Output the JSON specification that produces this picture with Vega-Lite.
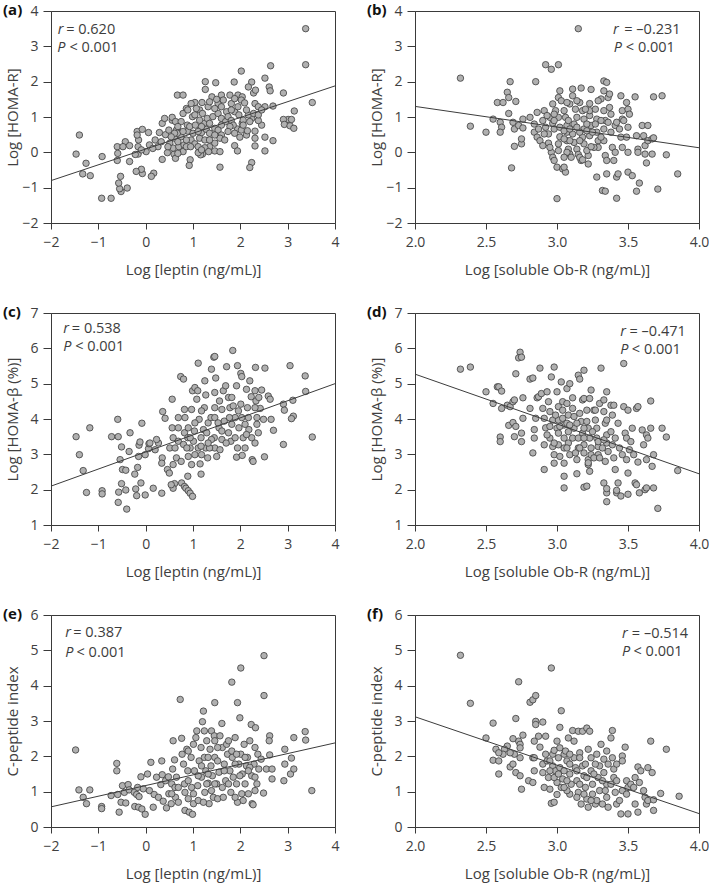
{
"$schema": "https://vega.github.io/schema/vega-lite/v6.json",
"background": "white",
"padding": {"left": 2, "top": 2, "right": 5, "bottom": 5},
"columns": 2,
"spacing": {"row": 90, "column": 80},
"bounds": "flush",
"datasets": {
"a": [{"x":3.38,"y":3.5},{"x":3.38,"y":2.48},{"x":2.64,"y":2.45},{"x":3.52,"y":1.41},{"x":2.02,"y":2.3},{"x":2.52,"y":2.1},{"x":1.26,"y":2.0},{"x":1.48,"y":1.97},{"x":1.87,"y":1.99},{"x":2.24,"y":1.99},{"x":2.17,"y":1.85},{"x":2.28,"y":1.68},{"x":2.32,"y":1.76},{"x":2.61,"y":1.85},{"x":2.63,"y":1.74},{"x":2.91,"y":1.68},{"x":0.67,"y":1.62},{"x":0.79,"y":1.62},{"x":1.26,"y":1.78},{"x":1.4,"y":1.57},{"x":1.6,"y":1.62},{"x":1.78,"y":1.62},{"x":1.95,"y":1.62},{"x":2.04,"y":1.57},{"x":1.04,"y":1.41},{"x":1.19,"y":1.41},{"x":0.86,"y":1.24},{"x":1.14,"y":1.2},{"x":1.32,"y":1.29},{"x":1.53,"y":1.38},{"x":1.71,"y":1.15},{"x":1.88,"y":1.15},{"x":2.31,"y":1.38},{"x":2.38,"y":1.29},{"x":2.52,"y":1.29},{"x":2.69,"y":1.31},{"x":3.14,"y":1.17},{"x":3.01,"y":0.93},{"x":3.08,"y":0.93},{"x":2.91,"y":0.93},{"x":2.93,"y":0.79},{"x":3.05,"y":0.75},{"x":3.13,"y":0.68},{"x":2.45,"y":0.77},{"x":2.38,"y":0.9},{"x":2.24,"y":0.96},{"x":2.04,"y":0.82},{"x":1.94,"y":0.66},{"x":1.99,"y":0.43},{"x":2.13,"y":0.49},{"x":2.31,"y":0.6},{"x":2.31,"y":0.4},{"x":2.52,"y":0.43},{"x":2.69,"y":0.33},{"x":1.88,"y":0.19},{"x":1.94,"y":0.04},{"x":2.31,"y":0.18},{"x":2.52,"y":0.04},{"x":2.24,"y":-0.29},{"x":2.2,"y":-0.43},{"x":1.46,"y":0.04},{"x":1.57,"y":0.02},{"x":1.57,"y":-0.42},{"x":1.2,"y":-0.05},{"x":1.16,"y":-0.07},{"x":0.94,"y":-0.21},{"x":0.92,"y":-0.37},{"x":0.6,"y":-0.05},{"x":0.63,"y":-0.17},{"x":0.46,"y":-0.01},{"x":0.35,"y":-0.2},{"x":0.17,"y":-0.59},{"x":0.12,"y":-0.68},{"x":-0.07,"y":-0.6},{"x":-0.09,"y":-0.48},{"x":-0.2,"y":-0.54},{"x":-0.16,"y":-0.05},{"x":0.01,"y":0.02},{"x":-0.22,"y":-0.06},{"x":-0.34,"y":-0.26},{"x":-0.39,"y":-1.01},{"x":-0.52,"y":-1.11},{"x":-0.55,"y":-1.03},{"x":-0.57,"y":-0.87},{"x":-0.53,"y":-0.68},{"x":-0.93,"y":-1.3},{"x":-0.73,"y":-1.3},{"x":-0.92,"y":-0.12},{"x":-1.17,"y":-0.66},{"x":-1.33,"y":-0.61},{"x":-1.26,"y":-0.31},{"x":-1.47,"y":-0.05},{"x":-1.4,"y":0.49},{"x":-0.6,"y":0.16},{"x":-0.59,"y":-0.03},{"x":-0.6,"y":-0.23},{"x":-0.43,"y":0.3},{"x":-0.48,"y":0.16},{"x":-0.34,"y":0.19},{"x":-0.16,"y":0.16},{"x":-0.15,"y":0.35},{"x":-0.18,"y":0.59},{"x":-0.18,"y":0.49},{"x":-0.07,"y":0.65},{"x":0.06,"y":0.56},{"x":0.08,"y":0.21},{"x":0.2,"y":0.35},{"x":0.29,"y":0.56},{"x":0.42,"y":0.5},{"x":0.35,"y":0.82},{"x":0.4,"y":0.96},{"x":0.56,"y":0.91},{"x":0.56,"y":0.99},{"x":0.63,"y":0.87},{"x":0.49,"y":0.63},{"x":0.65,"y":0.63},{"x":0.75,"y":0.87},{"x":0.79,"y":1.1},{"x":0.89,"y":1.2},{"x":0.99,"y":1.01},{"x":1.04,"y":1.06},{"x":0.88,"y":0.77},{"x":0.89,"y":0.6},{"x":0.75,"y":0.44},{"x":0.61,"y":0.4},{"x":0.51,"y":0.26},{"x":0.58,"y":0.12},{"x":0.7,"y":0.16},{"x":0.81,"y":0.21},{"x":0.96,"y":0.35},{"x":1.04,"y":0.24},{"x":1.14,"y":0.4},{"x":1.18,"y":0.56},{"x":1.28,"y":0.65},{"x":1.35,"y":0.54},{"x":1.46,"y":0.68},{"x":1.23,"y":0.82},{"x":1.3,"y":0.96},{"x":1.42,"y":1.01},{"x":1.53,"y":1.1},{"x":1.6,"y":0.96},{"x":1.69,"y":0.87},{"x":1.74,"y":1.01},{"x":1.81,"y":0.9},{"x":1.85,"y":0.77},{"x":1.78,"y":0.73},{"x":1.6,"y":0.77},{"x":1.53,"y":0.63},{"x":1.6,"y":0.49},{"x":1.57,"y":0.4},{"x":1.46,"y":0.26},{"x":1.35,"y":0.16},{"x":1.25,"y":0.13},{"x":1.11,"y":0.16},{"x":1.0,"y":0.54},{"x":0.93,"y":0.73},{"x":0.68,"y":0.73},{"x":0.67,"y":0.54},{"x":1.88,"y":0.54},{"x":2.02,"y":0.63},{"x":2.06,"y":0.91},{"x":2.17,"y":1.06},{"x":2.13,"y":1.2},{"x":1.95,"y":1.29},{"x":1.81,"y":1.38},{"x":1.88,"y":1.52},{"x":2.02,"y":1.48},{"x":2.09,"y":1.4},{"x":2.28,"y":1.1},{"x":2.2,"y":0.87},{"x":0.79,"y":0.02},{"x":0.86,"y":0.16},{"x":0.68,"y":-0.03},{"x":0.61,"y":0.54},{"x":0.26,"y":0.16},{"x":0.33,"y":0.3},{"x":0.15,"y":0.11},{"x":-0.09,"y":0.07},{"x":0.68,"y":0.3},{"x":1.05,"y":0.77},{"x":1.14,"y":0.91},{"x":1.2,"y":1.1},{"x":1.07,"y":1.24},{"x":0.96,"y":1.38},{"x":1.46,"y":1.24},{"x":1.6,"y":1.29},{"x":1.64,"y":1.48},{"x":1.5,"y":1.5},{"x":1.35,"y":1.43},{"x":1.81,"y":1.2},{"x":1.74,"y":0.59},{"x":1.67,"y":0.35},{"x":1.35,"y":0.82},{"x":1.18,"y":0.73},{"x":1.11,"y":0.59},{"x":0.79,"y":0.59},{"x":0.86,"y":0.35},{"x":1.25,"y":0.35},{"x":1.35,"y":0.35},{"x":1.46,"y":0.49},{"x":1.97,"y":1.06},{"x":2.06,"y":0.77},{"x":2.38,"y":1.06},{"x":2.45,"y":1.2},{"x":2.15,"y":0.61},{"x":0.47,"y":0.16},{"x":0.54,"y":0.44},{"x":0.95,"y":0.16},{"x":1.33,"y":0.02},{"x":1.11,"y":-0.01},{"x":1.18,"y":0.07}],
"b": [{"x":3.15,"y":3.5},{"x":2.32,"y":2.1},{"x":2.92,"y":2.48},{"x":2.96,"y":2.35},{"x":3.01,"y":2.48},{"x":2.67,"y":2.0},{"x":2.85,"y":2.0},{"x":2.65,"y":1.7},{"x":2.66,"y":1.55},{"x":2.58,"y":1.41},{"x":2.62,"y":1.41},{"x":2.71,"y":1.44},{"x":2.66,"y":1.1},{"x":2.39,"y":0.74},{"x":2.5,"y":0.57},{"x":2.55,"y":0.94},{"x":2.6,"y":0.85},{"x":2.61,"y":0.71},{"x":2.6,"y":0.57},{"x":2.69,"y":0.85},{"x":2.7,"y":0.66},{"x":2.73,"y":0.76},{"x":2.76,"y":0.94},{"x":2.76,"y":0.69},{"x":2.7,"y":0.17},{"x":2.75,"y":0.24},{"x":2.75,"y":0.38},{"x":2.68,"y":-0.44},{"x":2.81,"y":0.99},{"x":2.84,"y":0.8},{"x":2.84,"y":0.57},{"x":2.86,"y":0.43},{"x":2.86,"y":1.13},{"x":2.9,"y":0.9},{"x":2.91,"y":1.18},{"x":2.92,"y":0.71},{"x":2.94,"y":0.52},{"x":2.94,"y":0.26},{"x":2.95,"y":0.99},{"x":2.97,"y":1.37},{"x":2.99,"y":1.18},{"x":2.97,"y":0.82},{"x":2.98,"y":0.66},{"x":2.96,"y":0.0},{"x":2.97,"y":-0.14},{"x":2.98,"y":-0.23},{"x":3.0,"y":-0.42},{"x":3.0,"y":-1.31},{"x":3.04,"y":-0.47},{"x":3.06,"y":-0.56},{"x":3.05,"y":-0.42},{"x":3.01,"y":0.05},{"x":3.01,"y":0.24},{"x":3.02,"y":0.44},{"x":3.01,"y":1.55},{"x":3.02,"y":1.74},{"x":3.03,"y":1.46},{"x":3.05,"y":1.18},{"x":3.06,"y":0.99},{"x":3.07,"y":0.76},{"x":3.07,"y":0.57},{"x":3.07,"y":0.33},{"x":3.08,"y":0.09},{"x":3.09,"y":-0.05},{"x":3.09,"y":1.37},{"x":3.11,"y":1.79},{"x":3.11,"y":1.6},{"x":3.13,"y":1.22},{"x":3.14,"y":0.99},{"x":3.12,"y":0.8},{"x":3.11,"y":0.52},{"x":3.12,"y":0.28},{"x":3.14,"y":0.09},{"x":3.15,"y":-0.06},{"x":3.17,"y":1.82},{"x":3.16,"y":1.41},{"x":3.18,"y":1.18},{"x":3.19,"y":0.94},{"x":3.19,"y":0.66},{"x":3.18,"y":0.43},{"x":3.19,"y":0.24},{"x":3.17,"y":-0.23},{"x":3.22,"y":-0.33},{"x":3.22,"y":-0.09},{"x":3.21,"y":0.05},{"x":3.23,"y":0.47},{"x":3.24,"y":0.76},{"x":3.23,"y":1.04},{"x":3.23,"y":1.38},{"x":3.24,"y":1.78},{"x":3.23,"y":1.18},{"x":3.27,"y":1.22},{"x":3.28,"y":0.94},{"x":3.28,"y":0.57},{"x":3.29,"y":0.33},{"x":3.29,"y":0.14},{"x":3.28,"y":-0.7},{"x":3.31,"y":1.51},{"x":3.33,"y":1.74},{"x":3.33,"y":2.02},{"x":3.35,"y":1.98},{"x":3.32,"y":-1.08},{"x":3.34,"y":-1.1},{"x":3.35,"y":-0.61},{"x":3.33,"y":1.18},{"x":3.34,"y":0.9},{"x":3.33,"y":0.66},{"x":3.33,"y":0.33},{"x":3.34,"y":-0.09},{"x":3.35,"y":-0.23},{"x":3.36,"y":1.55},{"x":3.37,"y":1.65},{"x":3.37,"y":1.27},{"x":3.38,"y":1.08},{"x":3.38,"y":0.57},{"x":3.39,"y":0.14},{"x":3.4,"y":-0.23},{"x":3.41,"y":0.76},{"x":3.42,"y":0.85},{"x":3.41,"y":0.0},{"x":3.42,"y":-1.3},{"x":3.42,"y":-0.7},{"x":3.43,"y":-0.61},{"x":3.45,"y":1.6},{"x":3.46,"y":1.18},{"x":3.46,"y":0.94},{"x":3.45,"y":0.43},{"x":3.46,"y":0.14},{"x":3.49,"y":1.41},{"x":3.5,"y":1.22},{"x":3.51,"y":1.08},{"x":3.5,"y":0.71},{"x":3.49,"y":0.43},{"x":3.5,"y":0.0},{"x":3.5,"y":-0.56},{"x":3.53,"y":-0.66},{"x":3.55,"y":1.57},{"x":3.56,"y":0.47},{"x":3.57,"y":0.09},{"x":3.57,"y":0.0},{"x":3.56,"y":-1.1},{"x":3.58,"y":-0.87},{"x":3.6,"y":0.76},{"x":3.61,"y":0.47},{"x":3.62,"y":0.19},{"x":3.62,"y":-0.05},{"x":3.63,"y":-0.3},{"x":3.64,"y":0.76},{"x":3.64,"y":0.33},{"x":3.67,"y":-0.05},{"x":3.67,"y":0.38},{"x":3.68,"y":0.41},{"x":3.68,"y":1.57},{"x":3.74,"y":1.6},{"x":3.71,"y":-1.04},{"x":3.77,"y":-0.07},{"x":3.85,"y":-0.61},{"x":3.01,"y":0.99},{"x":2.98,"y":1.08},{"x":2.93,"y":1.04},{"x":2.91,"y":0.52},{"x":2.88,"y":0.33},{"x":2.87,"y":0.66},{"x":3.09,"y":0.33},{"x":3.16,"y":0.33},{"x":3.27,"y":0.8},{"x":3.31,"y":0.43},{"x":3.26,"y":0.14},{"x":3.24,"y":0.16},{"x":3.16,"y":0.57},{"x":3.07,"y":0.0},{"x":3.05,"y":-0.14},{"x":3.1,"y":-0.14},{"x":3.16,"y":-0.14},{"x":3.18,"y":-0.21},{"x":3.08,"y":0.9},{"x":3.02,"y":0.71},{"x":3.05,"y":0.61},{"x":3.09,"y":0.66},{"x":3.14,"y":0.71},{"x":3.21,"y":0.8},{"x":3.31,"y":0.9},{"x":3.36,"y":0.85},{"x":3.47,"y":0.9},{"x":3.44,"y":0.66},{"x":3.29,"y":1.46},{"x":3.2,"y":1.22},{"x":3.14,"y":1.46},{"x":3.07,"y":1.41},{"x":2.98,"y":0.9},{"x":2.9,"y":0.19},{"x":2.95,"y":0.14},{"x":3.05,"y":0.38},{"x":3.21,"y":0.61},{"x":3.25,"y":0.57}],
"c": [{"x":-1.47,"y":3.5},{"x":-1.4,"y":2.99},{"x":-1.32,"y":2.54},{"x":-1.25,"y":1.92},{"x":-1.18,"y":3.75},{"x":-0.92,"y":1.97},{"x":-0.92,"y":1.88},{"x":-0.72,"y":3.5},{"x":-0.59,"y":3.99},{"x":-0.58,"y":3.5},{"x":-0.54,"y":2.85},{"x":-0.58,"y":1.64},{"x":-0.57,"y":1.93},{"x":-0.51,"y":2.17},{"x":-0.49,"y":2.57},{"x":-0.51,"y":3.21},{"x":-0.4,"y":1.45},{"x":-0.42,"y":1.99},{"x":-0.42,"y":2.55},{"x":-0.33,"y":3.61},{"x":-0.35,"y":3.08},{"x":-0.23,"y":2.44},{"x":-0.21,"y":2.02},{"x":-0.19,"y":1.83},{"x":-0.17,"y":2.63},{"x":-0.15,"y":2.94},{"x":-0.14,"y":3.26},{"x":-0.12,"y":3.35},{"x":-0.08,"y":3.88},{"x":-0.1,"y":2.19},{"x":-0.01,"y":1.85},{"x":-0.01,"y":2.99},{"x":0.06,"y":3.16},{"x":0.07,"y":3.3},{"x":0.09,"y":3.32},{"x":0.16,"y":2.04},{"x":0.2,"y":3.13},{"x":0.27,"y":3.32},{"x":0.23,"y":3.42},{"x":0.34,"y":1.9},{"x":0.35,"y":2.9},{"x":0.34,"y":2.75},{"x":0.36,"y":4.21},{"x":0.41,"y":4.02},{"x":0.46,"y":2.57},{"x":0.5,"y":2.47},{"x":0.51,"y":3.18},{"x":0.56,"y":3.75},{"x":0.56,"y":4.56},{"x":0.58,"y":3.47},{"x":0.62,"y":3.18},{"x":0.58,"y":2.71},{"x":0.61,"y":2.17},{"x":0.58,"y":2.04},{"x":0.54,"y":2.14},{"x":0.65,"y":2.9},{"x":0.69,"y":3.37},{"x":0.69,"y":3.75},{"x":0.74,"y":5.2},{"x":0.8,"y":5.13},{"x":0.76,"y":2.19},{"x":0.82,"y":2.09},{"x":0.85,"y":2.04},{"x":0.9,"y":1.97},{"x":0.94,"y":1.9},{"x":0.99,"y":1.81},{"x":0.89,"y":2.38},{"x":0.75,"y":2.8},{"x":0.8,"y":3.28},{"x":0.82,"y":3.61},{"x":0.83,"y":4.04},{"x":0.82,"y":4.27},{"x":0.89,"y":3.47},{"x":0.9,"y":2.94},{"x":0.94,"y":3.18},{"x":0.97,"y":4.27},{"x":0.99,"y":4.8},{"x":1.03,"y":3.66},{"x":1.01,"y":3.37},{"x":1.04,"y":2.99},{"x":1.04,"y":4.89},{"x":1.11,"y":5.58},{"x":1.1,"y":4.8},{"x":1.08,"y":4.56},{"x":1.13,"y":3.99},{"x":1.11,"y":3.18},{"x":1.15,"y":2.73},{"x":1.17,"y":2.44},{"x":1.17,"y":3.47},{"x":1.22,"y":3.7},{"x":1.24,"y":4.32},{"x":1.25,"y":5.08},{"x":1.27,"y":4.68},{"x":1.27,"y":3.18},{"x":1.31,"y":2.9},{"x":1.32,"y":3.89},{"x":1.38,"y":4.04},{"x":1.39,"y":5.41},{"x":1.44,"y":5.75},{"x":1.46,"y":5.77},{"x":1.48,"y":5.16},{"x":1.46,"y":4.75},{"x":1.46,"y":4.32},{"x":1.45,"y":3.47},{"x":1.46,"y":3.18},{"x":1.5,"y":2.94},{"x":1.57,"y":3.13},{"x":1.55,"y":3.75},{"x":1.61,"y":4.27},{"x":1.64,"y":4.8},{"x":1.69,"y":4.94},{"x":1.71,"y":5.48},{"x":1.75,"y":4.61},{"x":1.78,"y":4.32},{"x":1.75,"y":3.61},{"x":1.8,"y":3.37},{"x":1.82,"y":3.85},{"x":1.84,"y":5.94},{"x":1.89,"y":4.04},{"x":1.92,"y":4.94},{"x":1.94,"y":5.51},{"x":1.97,"y":3.75},{"x":1.94,"y":3.18},{"x":1.92,"y":2.92},{"x":2.01,"y":5.29},{"x":2.03,"y":5.2},{"x":2.01,"y":4.42},{"x":2.04,"y":2.97},{"x":2.06,"y":3.47},{"x":2.1,"y":3.18},{"x":2.13,"y":4.84},{"x":2.15,"y":4.32},{"x":2.18,"y":3.7},{"x":2.2,"y":5.08},{"x":2.23,"y":4.63},{"x":2.25,"y":2.85},{"x":2.27,"y":2.8},{"x":2.31,"y":3.32},{"x":2.32,"y":5.46},{"x":2.31,"y":4.8},{"x":2.33,"y":4.51},{"x":2.35,"y":4.04},{"x":2.35,"y":3.85},{"x":2.38,"y":3.61},{"x":2.42,"y":4.3},{"x":2.45,"y":4.82},{"x":2.49,"y":3.99},{"x":2.52,"y":5.44},{"x":2.51,"y":2.93},{"x":2.59,"y":4.65},{"x":2.63,"y":4.56},{"x":2.65,"y":3.99},{"x":2.7,"y":3.68},{"x":2.91,"y":4.42},{"x":2.93,"y":4.25},{"x":2.91,"y":3.28},{"x":3.05,"y":5.51},{"x":3.11,"y":4.53},{"x":3.12,"y":4.08},{"x":3.08,"y":4.01},{"x":3.37,"y":5.22},{"x":3.38,"y":4.78},{"x":3.52,"y":3.49},{"x":1.18,"y":4.23},{"x":1.29,"y":3.61},{"x":1.39,"y":3.42},{"x":1.61,"y":3.66},{"x":1.66,"y":3.94},{"x":1.85,"y":4.37},{"x":1.89,"y":3.47},{"x":2.17,"y":4.04},{"x":2.24,"y":3.47},{"x":1.61,"y":3.42},{"x":1.35,"y":3.18},{"x":1.18,"y":2.99},{"x":0.97,"y":2.71},{"x":0.87,"y":3.18},{"x":0.69,"y":4.04},{"x":0.9,"y":3.75},{"x":1.04,"y":3.89},{"x":1.46,"y":4.04},{"x":1.56,"y":4.51},{"x":2.03,"y":4.04},{"x":2.1,"y":3.85},{"x":1.82,"y":4.61},{"x":1.17,"y":3.23},{"x":0.94,"y":3.47},{"x":1.53,"y":3.89},{"x":1.96,"y":4.23},{"x":2.31,"y":4.32},{"x":2.39,"y":4.61},{"x":2.13,"y":3.56},{"x":1.77,"y":4.04},{"x":1.7,"y":3.32},{"x":1.32,"y":3.32}],
"d": [{"x":2.32,"y":5.41},{"x":2.39,"y":5.47},{"x":2.5,"y":4.77},{"x":2.58,"y":4.91},{"x":2.59,"y":4.91},{"x":2.61,"y":4.79},{"x":2.55,"y":4.44},{"x":2.6,"y":3.49},{"x":2.6,"y":3.36},{"x":2.61,"y":4.3},{"x":2.65,"y":4.39},{"x":2.67,"y":4.35},{"x":2.69,"y":4.49},{"x":2.7,"y":4.54},{"x":2.66,"y":3.82},{"x":2.69,"y":3.9},{"x":2.71,"y":3.79},{"x":2.7,"y":3.5},{"x":2.71,"y":5.28},{"x":2.74,"y":5.89},{"x":2.73,"y":5.73},{"x":2.75,"y":5.75},{"x":2.76,"y":4.02},{"x":2.75,"y":3.6},{"x":2.75,"y":3.36},{"x":2.76,"y":4.6},{"x":2.81,"y":5.13},{"x":2.83,"y":5.16},{"x":2.81,"y":4.3},{"x":2.83,"y":3.04},{"x":2.84,"y":3.7},{"x":2.84,"y":3.46},{"x":2.85,"y":4.02},{"x":2.86,"y":4.6},{"x":2.87,"y":4.63},{"x":2.88,"y":5.44},{"x":2.89,"y":4.72},{"x":2.9,"y":4.3},{"x":2.91,"y":2.57},{"x":2.91,"y":3.27},{"x":2.92,"y":3.75},{"x":2.93,"y":4.77},{"x":2.94,"y":4.49},{"x":2.95,"y":4.21},{"x":2.96,"y":5.19},{"x":2.98,"y":5.47},{"x":2.97,"y":3.97},{"x":2.95,"y":3.46},{"x":2.97,"y":3.22},{"x":2.98,"y":2.99},{"x":2.98,"y":2.75},{"x":3.0,"y":4.77},{"x":3.01,"y":4.35},{"x":3.01,"y":3.97},{"x":3.0,"y":3.74},{"x":3.01,"y":3.6},{"x":3.01,"y":3.27},{"x":3.02,"y":2.94},{"x":3.03,"y":5.05},{"x":3.04,"y":4.49},{"x":3.04,"y":4.25},{"x":3.04,"y":4.02},{"x":3.05,"y":3.83},{"x":3.05,"y":3.46},{"x":3.05,"y":3.18},{"x":3.05,"y":2.75},{"x":3.05,"y":2.38},{"x":3.05,"y":2.05},{"x":3.07,"y":4.86},{"x":3.08,"y":4.11},{"x":3.07,"y":3.88},{"x":3.08,"y":3.64},{"x":3.08,"y":3.32},{"x":3.09,"y":2.99},{"x":3.09,"y":5.0},{"x":3.11,"y":4.6},{"x":3.11,"y":4.3},{"x":3.12,"y":4.07},{"x":3.12,"y":3.74},{"x":3.11,"y":3.46},{"x":3.14,"y":2.45},{"x":3.14,"y":2.85},{"x":3.15,"y":3.18},{"x":3.15,"y":5.24},{"x":3.16,"y":5.13},{"x":3.16,"y":4.16},{"x":3.17,"y":3.93},{"x":3.18,"y":4.54},{"x":3.18,"y":3.6},{"x":3.19,"y":3.27},{"x":3.19,"y":3.04},{"x":3.19,"y":5.38},{"x":3.19,"y":4.58},{"x":3.19,"y":2.07},{"x":3.21,"y":2.1},{"x":3.22,"y":2.85},{"x":3.22,"y":2.71},{"x":3.22,"y":2.76},{"x":3.23,"y":2.52},{"x":3.21,"y":4.25},{"x":3.21,"y":3.93},{"x":3.22,"y":3.74},{"x":3.23,"y":3.46},{"x":3.24,"y":3.18},{"x":3.24,"y":4.82},{"x":3.23,"y":4.58},{"x":3.26,"y":4.25},{"x":3.27,"y":3.97},{"x":3.28,"y":3.74},{"x":3.28,"y":3.46},{"x":3.29,"y":3.22},{"x":3.29,"y":2.99},{"x":3.31,"y":5.44},{"x":3.3,"y":4.44},{"x":3.33,"y":2.19},{"x":3.35,"y":1.91},{"x":3.35,"y":1.66},{"x":3.35,"y":2.03},{"x":3.33,"y":4.54},{"x":3.33,"y":4.21},{"x":3.34,"y":3.88},{"x":3.35,"y":3.55},{"x":3.35,"y":3.32},{"x":3.36,"y":3.08},{"x":3.35,"y":4.77},{"x":3.38,"y":4.39},{"x":3.39,"y":4.11},{"x":3.39,"y":3.27},{"x":3.4,"y":2.9},{"x":3.4,"y":4.39},{"x":3.41,"y":2.57},{"x":3.42,"y":1.91},{"x":3.42,"y":1.98},{"x":3.43,"y":2.19},{"x":3.43,"y":3.88},{"x":3.44,"y":3.18},{"x":3.45,"y":1.82},{"x":3.46,"y":2.99},{"x":3.47,"y":4.35},{"x":3.47,"y":5.57},{"x":3.48,"y":3.6},{"x":3.49,"y":3.46},{"x":3.49,"y":2.85},{"x":3.5,"y":4.25},{"x":3.5,"y":2.47},{"x":3.5,"y":1.87},{"x":3.51,"y":3.13},{"x":3.52,"y":3.36},{"x":3.53,"y":3.74},{"x":3.54,"y":2.99},{"x":3.55,"y":2.19},{"x":3.56,"y":2.14},{"x":3.56,"y":4.3},{"x":3.57,"y":4.35},{"x":3.57,"y":2.78},{"x":3.58,"y":1.91},{"x":3.6,"y":3.69},{"x":3.61,"y":3.27},{"x":3.62,"y":2.0},{"x":3.63,"y":2.05},{"x":3.63,"y":2.85},{"x":3.63,"y":3.55},{"x":3.64,"y":3.46},{"x":3.66,"y":3.74},{"x":3.66,"y":4.51},{"x":3.67,"y":2.66},{"x":3.68,"y":2.99},{"x":3.68,"y":2.05},{"x":3.71,"y":1.47},{"x":3.74,"y":3.74},{"x":3.77,"y":3.49},{"x":3.85,"y":2.54},{"x":3.07,"y":4.44},{"x":2.99,"y":4.11},{"x":2.95,"y":3.79},{"x":2.91,"y":4.02},{"x":2.93,"y":3.55},{"x":3.02,"y":3.79},{"x":3.09,"y":3.83},{"x":3.14,"y":3.88},{"x":3.15,"y":3.46},{"x":3.19,"y":3.74},{"x":3.25,"y":3.64},{"x":3.29,"y":3.36},{"x":3.32,"y":3.18},{"x":3.33,"y":3.41},{"x":3.38,"y":3.64},{"x":3.41,"y":3.46},{"x":3.35,"y":3.97},{"x":3.27,"y":4.25},{"x":3.19,"y":3.46},{"x":3.13,"y":3.04},{"x":3.07,"y":3.18},{"x":2.98,"y":3.32},{"x":3.16,"y":3.18},{"x":3.24,"y":2.99},{"x":3.26,"y":2.9},{"x":3.3,"y":2.9},{"x":3.34,"y":2.8}],
"e": [{"x":-1.48,"y":2.18},{"x":-1.41,"y":1.05},{"x":-1.32,"y":0.84},{"x":-1.25,"y":0.66},{"x":-1.18,"y":1.05},{"x":-0.93,"y":0.58},{"x":-0.93,"y":0.52},{"x":-0.73,"y":0.89},{"x":-0.61,"y":1.8},{"x":-0.61,"y":1.59},{"x":-0.59,"y":0.92},{"x":-0.56,"y":0.42},{"x":-0.52,"y":0.7},{"x":-0.49,"y":1.17},{"x":-0.45,"y":0.98},{"x":-0.42,"y":0.68},{"x":-0.37,"y":1.2},{"x":-0.35,"y":1.05},{"x":-0.24,"y":0.98},{"x":-0.23,"y":0.58},{"x":-0.19,"y":0.92},{"x":-0.17,"y":1.12},{"x":-0.15,"y":0.56},{"x":-0.14,"y":0.86},{"x":-0.1,"y":1.42},{"x":-0.08,"y":0.51},{"x":-0.01,"y":0.36},{"x":-0.05,"y":1.08},{"x":0.04,"y":1.5},{"x":0.11,"y":1.83},{"x":0.08,"y":1.03},{"x":0.16,"y":0.56},{"x":0.18,"y":0.92},{"x":0.23,"y":1.41},{"x":0.27,"y":0.84},{"x":0.32,"y":1.2},{"x":0.34,"y":1.87},{"x":0.35,"y":1.48},{"x":0.37,"y":0.73},{"x":0.42,"y":1.31},{"x":0.44,"y":0.54},{"x":0.48,"y":1.42},{"x":0.49,"y":0.94},{"x":0.55,"y":1.22},{"x":0.54,"y":0.66},{"x":0.57,"y":1.64},{"x":0.58,"y":2.44},{"x":0.61,"y":1.9},{"x":0.62,"y":1.12},{"x":0.63,"y":0.84},{"x":0.65,"y":1.41},{"x":0.69,"y":0.7},{"x":0.73,"y":3.61},{"x":0.76,"y":2.51},{"x":0.77,"y":2.06},{"x":0.8,"y":1.78},{"x":0.82,"y":1.22},{"x":0.83,"y":0.98},{"x":0.83,"y":0.47},{"x":0.87,"y":2.2},{"x":0.89,"y":1.59},{"x":0.9,"y":0.8},{"x":0.92,"y":0.42},{"x":0.96,"y":1.97},{"x":0.97,"y":1.12},{"x":0.99,"y":0.36},{"x":1.01,"y":2.34},{"x":1.01,"y":0.66},{"x":1.03,"y":1.59},{"x":1.06,"y":2.53},{"x":1.08,"y":2.72},{"x":1.1,"y":1.17},{"x":1.11,"y":0.75},{"x":1.13,"y":1.87},{"x":1.17,"y":2.25},{"x":1.18,"y":1.41},{"x":1.2,"y":2.98},{"x":1.22,"y":3.28},{"x":1.24,"y":2.72},{"x":1.24,"y":1.97},{"x":1.25,"y":0.98},{"x":1.27,"y":1.59},{"x":1.29,"y":2.44},{"x":1.32,"y":1.24},{"x":1.34,"y":0.66},{"x":1.36,"y":2.2},{"x":1.38,"y":1.73},{"x":1.39,"y":2.72},{"x":1.41,"y":1.45},{"x":1.43,"y":0.84},{"x":1.45,"y":2.58},{"x":1.46,"y":3.52},{"x":1.46,"y":1.97},{"x":1.5,"y":1.22},{"x":1.52,"y":0.8},{"x":1.55,"y":1.55},{"x":1.57,"y":2.58},{"x":1.61,"y":2.93},{"x":1.62,"y":2.25},{"x":1.62,"y":1.12},{"x":1.66,"y":1.78},{"x":1.69,"y":1.31},{"x":1.71,"y":2.34},{"x":1.73,"y":2.06},{"x":1.75,"y":2.44},{"x":1.78,"y":1.59},{"x":1.8,"y":0.98},{"x":1.82,"y":4.1},{"x":1.83,"y":1.97},{"x":1.85,"y":1.41},{"x":1.89,"y":2.53},{"x":1.92,"y":1.22},{"x":1.94,"y":3.52},{"x":1.94,"y":0.7},{"x":1.97,"y":1.78},{"x":1.99,"y":3.09},{"x":2.01,"y":4.5},{"x":2.01,"y":2.06},{"x":2.03,"y":0.94},{"x":2.04,"y":1.5},{"x":2.08,"y":2.34},{"x":2.1,"y":1.22},{"x":2.13,"y":1.73},{"x":2.15,"y":1.97},{"x":2.17,"y":0.94},{"x":2.2,"y":2.44},{"x":2.23,"y":2.9},{"x":2.24,"y":1.45},{"x":2.25,"y":0.66},{"x":2.27,"y":0.63},{"x":2.29,"y":1.78},{"x":2.31,"y":2.25},{"x":2.32,"y":2.81},{"x":2.35,"y":1.22},{"x":2.37,"y":2.06},{"x":2.39,"y":1.64},{"x":2.44,"y":1.92},{"x":2.49,"y":0.96},{"x":2.5,"y":3.72},{"x":2.5,"y":4.85},{"x":2.55,"y":1.64},{"x":2.62,"y":2.58},{"x":2.61,"y":2.44},{"x":2.62,"y":2.04},{"x":2.67,"y":1.64},{"x":2.67,"y":1.36},{"x":2.94,"y":2.2},{"x":2.94,"y":1.78},{"x":2.92,"y":1.31},{"x":3.06,"y":1.5},{"x":3.08,"y":1.95},{"x":3.13,"y":2.53},{"x":3.13,"y":1.64},{"x":3.37,"y":2.7},{"x":3.38,"y":2.46},{"x":3.51,"y":1.03},{"x":1.18,"y":1.73},{"x":1.32,"y":1.97},{"x":1.52,"y":1.87},{"x":1.66,"y":1.59},{"x":1.89,"y":1.78},{"x":1.99,"y":1.45},{"x":2.2,"y":1.69},{"x":2.31,"y":1.41},{"x":1.46,"y":1.22},{"x":1.29,"y":1.22},{"x":1.11,"y":1.45},{"x":0.9,"y":1.31},{"x":0.69,"y":1.12},{"x":0.55,"y":0.94},{"x":1.01,"y":0.94},{"x":1.39,"y":1.03},{"x":1.75,"y":1.22},{"x":1.89,"y":0.84},{"x":2.06,"y":0.75},{"x":2.31,"y":1.03},{"x":1.82,"y":2.15},{"x":1.52,"y":2.25},{"x":1.46,"y":2.44},{"x":0.9,"y":2.15},{"x":1.32,"y":1.5},{"x":1.92,"y":2.06},{"x":2.1,"y":1.97},{"x":2.17,"y":1.59},{"x":1.64,"y":0.84},{"x":1.22,"y":0.7}],
"f": [{"x":2.32,"y":4.86},{"x":2.39,"y":3.5},{"x":2.96,"y":4.5},{"x":2.73,"y":4.11},{"x":2.81,"y":3.53},{"x":2.83,"y":3.6},{"x":2.85,"y":3.72},{"x":2.71,"y":3.07},{"x":2.55,"y":2.94},{"x":2.5,"y":2.52},{"x":2.85,"y":2.99},{"x":2.85,"y":2.9},{"x":2.9,"y":2.97},{"x":3.03,"y":3.29},{"x":3.02,"y":2.82},{"x":2.76,"y":2.6},{"x":2.73,"y":2.43},{"x":2.74,"y":2.34},{"x":2.74,"y":2.24},{"x":2.69,"y":2.5},{"x":2.7,"y":2.06},{"x":2.65,"y":2.29},{"x":2.63,"y":2.2},{"x":2.67,"y":2.1},{"x":2.62,"y":2.06},{"x":2.57,"y":2.2},{"x":2.59,"y":2.1},{"x":2.55,"y":1.89},{"x":2.59,"y":1.87},{"x":2.59,"y":1.5},{"x":2.67,"y":1.7},{"x":2.69,"y":1.78},{"x":2.71,"y":1.54},{"x":2.74,"y":1.45},{"x":2.75,"y":1.07},{"x":2.74,"y":1.96},{"x":2.8,"y":1.31},{"x":2.83,"y":1.26},{"x":2.83,"y":1.96},{"x":2.84,"y":1.96},{"x":2.84,"y":2.43},{"x":2.84,"y":1.59},{"x":2.87,"y":2.57},{"x":2.88,"y":2.26},{"x":2.9,"y":1.78},{"x":2.9,"y":1.54},{"x":2.91,"y":1.12},{"x":2.92,"y":2.57},{"x":2.93,"y":1.87},{"x":2.94,"y":1.4},{"x":2.95,"y":1.07},{"x":2.96,"y":0.67},{"x":2.98,"y":0.7},{"x":2.97,"y":2.06},{"x":2.97,"y":1.73},{"x":2.98,"y":2.17},{"x":2.99,"y":1.59},{"x":3.0,"y":1.26},{"x":3.0,"y":0.92},{"x":3.0,"y":2.43},{"x":3.01,"y":1.96},{"x":3.02,"y":1.68},{"x":3.04,"y":1.36},{"x":3.03,"y":1.12},{"x":3.05,"y":2.06},{"x":3.06,"y":2.15},{"x":3.07,"y":1.87},{"x":3.08,"y":2.52},{"x":3.09,"y":1.5},{"x":3.09,"y":0.93},{"x":3.1,"y":1.21},{"x":3.11,"y":2.73},{"x":3.12,"y":2.43},{"x":3.12,"y":1.96},{"x":3.13,"y":1.68},{"x":3.14,"y":1.31},{"x":3.15,"y":2.71},{"x":3.15,"y":0.98},{"x":3.16,"y":2.1},{"x":3.17,"y":0.65},{"x":3.18,"y":1.73},{"x":3.18,"y":2.71},{"x":3.19,"y":1.45},{"x":3.2,"y":1.12},{"x":3.21,"y":0.79},{"x":3.21,"y":2.8},{"x":3.22,"y":2.2},{"x":3.22,"y":0.56},{"x":3.23,"y":2.71},{"x":3.24,"y":1.59},{"x":3.24,"y":1.96},{"x":3.25,"y":1.21},{"x":3.25,"y":0.93},{"x":3.27,"y":0.65},{"x":3.28,"y":2.06},{"x":3.29,"y":1.4},{"x":3.3,"y":1.73},{"x":3.31,"y":2.34},{"x":3.3,"y":1.03},{"x":3.32,"y":0.65},{"x":3.33,"y":1.92},{"x":3.33,"y":1.54},{"x":3.35,"y":1.21},{"x":3.35,"y":0.84},{"x":3.36,"y":0.56},{"x":3.36,"y":1.78},{"x":3.38,"y":2.52},{"x":3.39,"y":2.73},{"x":3.39,"y":1.96},{"x":3.4,"y":1.4},{"x":3.41,"y":0.98},{"x":3.42,"y":0.65},{"x":3.42,"y":1.31},{"x":3.44,"y":0.75},{"x":3.45,"y":0.37},{"x":3.46,"y":1.03},{"x":3.46,"y":2.01},{"x":3.46,"y":1.87},{"x":3.48,"y":2.26},{"x":3.49,"y":1.31},{"x":3.49,"y":0.93},{"x":3.5,"y":0.37},{"x":3.5,"y":1.12},{"x":3.52,"y":1.21},{"x":3.54,"y":1.12},{"x":3.55,"y":1.4},{"x":3.55,"y":0.65},{"x":3.57,"y":1.7},{"x":3.57,"y":0.42},{"x":3.58,"y":1.26},{"x":3.59,"y":1.59},{"x":3.61,"y":1.03},{"x":3.62,"y":0.84},{"x":3.63,"y":0.65},{"x":3.64,"y":1.68},{"x":3.64,"y":0.75},{"x":3.66,"y":2.43},{"x":3.67,"y":1.54},{"x":3.68,"y":0.47},{"x":3.68,"y":0.77},{"x":3.73,"y":0.95},{"x":3.77,"y":2.2},{"x":3.86,"y":0.87},{"x":2.95,"y":1.59},{"x":2.98,"y":1.4},{"x":3.01,"y":1.5},{"x":3.05,"y":1.59},{"x":3.07,"y":1.31},{"x":3.09,"y":1.78},{"x":3.14,"y":1.59},{"x":3.16,"y":1.21},{"x":3.2,"y":1.78},{"x":3.21,"y":1.4},{"x":3.26,"y":1.5},{"x":3.27,"y":1.78},{"x":3.32,"y":1.31},{"x":3.34,"y":1.03},{"x":3.38,"y":1.21},{"x":3.4,"y":1.64},{"x":3.28,"y":0.75},{"x":3.24,"y":0.75},{"x":3.19,"y":0.93},{"x":3.14,"y":0.84},{"x":3.07,"y":1.03},{"x":3.05,"y":1.12},{"x":3.16,"y":1.96},{"x":3.09,"y":2.06},{"x":3.02,"y":2.24},{"x":2.95,"y":1.87},{"x":2.92,"y":2.06},{"x":3.35,"y":2.15},{"x":3.42,"y":1.78}]
},
"concat": [
{"width":284,"height":212,"title":{"text":"(a)"},
 "layer":[
 {"data":{"name":"a"},"mark":{"type":"circle","size":42,"fill":"#b0b0b0","stroke":"#3c3c3c","strokeWidth":0.8,"opacity":1},
  "encoding":{"x":{"field":"x","type":"quantitative","scale":{"domain":[-2,4],"nice":false,"zero":false},"axis":{"values":[-2,-1,0,1,2,3,4],"title":"Log [leptin (ng/mL)]"}},
   "y":{"field":"y","type":"quantitative","scale":{"domain":[-2,4],"nice":false,"zero":false},"axis":{"values":[-2,-1,0,1,2,3,4],"tickCount":7,"labelOverlap":false,"title":"Log [HOMA-R]"}}}},
 {"data":{"values":[{"x":-2,"y":-0.8},{"x":4,"y":1.88}]},"mark":{"type":"line","color":"#3c3c3c","strokeWidth":1},
  "encoding":{"x":{"field":"x","type":"quantitative","scale":{"domain":[-2,4],"nice":false,"zero":false}},"y":{"field":"y","type":"quantitative","scale":{"domain":[-2,4],"nice":false,"zero":false}}}},
 {"data":{"values":[{"x":-1.86,"y":3.45,"t":"r"},{"x":-1.87,"y":2.94,"t":"P"}]},"mark":{"type":"text","align":"left","baseline":"middle","fontStyle":"italic","fontSize":14.5,"color":"#3d3d3d"},
  "encoding":{"x":{"field":"x","type":"quantitative"},"y":{"field":"y","type":"quantitative"},"text":{"field":"t"}}},
 {"data":{"values":[{"x":-1.68,"y":3.45,"t":"= 0.620"},{"x":-1.61,"y":2.94,"t":"< 0.001"}]},"mark":{"type":"text","align":"left","baseline":"middle","fontSize":14.5,"color":"#3d3d3d"},
  "encoding":{"x":{"field":"x","type":"quantitative"},"y":{"field":"y","type":"quantitative"},"text":{"field":"t"}}}
 ]},
{"width":284,"height":212,"title":{"text":"(b)"},
 "layer":[
 {"data":{"name":"b"},"mark":{"type":"circle","size":42,"fill":"#b0b0b0","stroke":"#3c3c3c","strokeWidth":0.8,"opacity":1},
  "encoding":{"x":{"field":"x","type":"quantitative","scale":{"domain":[2,4],"nice":false,"zero":false},"axis":{"values":[2,2.5,3,3.5,4],"format":".1f","title":"Log [soluble Ob-R (ng/mL)]"}},
   "y":{"field":"y","type":"quantitative","scale":{"domain":[-2,4],"nice":false,"zero":false},"axis":{"values":[-2,-1,0,1,2,3,4],"tickCount":7,"labelOverlap":false,"title":"Log [HOMA-R]"}}}},
 {"data":{"values":[{"x":2,"y":1.3},{"x":4,"y":0.13}]},"mark":{"type":"line","color":"#3c3c3c","strokeWidth":1},
  "encoding":{"x":{"field":"x","type":"quantitative","scale":{"domain":[2,4],"nice":false,"zero":false}},"y":{"field":"y","type":"quantitative","scale":{"domain":[-2,4],"nice":false,"zero":false}}}},
 {"data":{"values":[{"x":3.394,"y":3.45,"t":"r"},{"x":3.399,"y":2.95,"t":"P"}]},"mark":{"type":"text","align":"left","baseline":"middle","fontStyle":"italic","fontSize":14.5,"color":"#3d3d3d"},
  "encoding":{"x":{"field":"x","type":"quantitative"},"y":{"field":"y","type":"quantitative"},"text":{"field":"t"}}},
 {"data":{"values":[{"x":3.474,"y":3.45,"t":"= –0.231"},{"x":3.485,"y":2.95,"t":"< 0.001"}]},"mark":{"type":"text","align":"left","baseline":"middle","fontSize":14.5,"color":"#3d3d3d"},
  "encoding":{"x":{"field":"x","type":"quantitative"},"y":{"field":"y","type":"quantitative"},"text":{"field":"t"}}}
 ]},
{"width":284,"height":212,"title":{"text":"(c)"},
 "layer":[
 {"data":{"name":"c"},"mark":{"type":"circle","size":42,"fill":"#b0b0b0","stroke":"#3c3c3c","strokeWidth":0.8,"opacity":1},
  "encoding":{"x":{"field":"x","type":"quantitative","scale":{"domain":[-2,4],"nice":false,"zero":false},"axis":{"values":[-2,-1,0,1,2,3,4],"title":"Log [leptin (ng/mL)]"}},
   "y":{"field":"y","type":"quantitative","scale":{"domain":[1,7],"nice":false,"zero":false},"axis":{"values":[1,2,3,4,5,6,7],"tickCount":7,"labelOverlap":false,"title":"Log [HOMA-β (%)]"}}}},
 {"data":{"values":[{"x":-2,"y":2.1},{"x":4,"y":5.0}]},"mark":{"type":"line","color":"#3c3c3c","strokeWidth":1},
  "encoding":{"x":{"field":"x","type":"quantitative","scale":{"domain":[-2,4],"nice":false,"zero":false}},"y":{"field":"y","type":"quantitative","scale":{"domain":[1,7],"nice":false,"zero":false}}}},
 {"data":{"values":[{"x":-1.74,"y":6.55,"t":"r"},{"x":-1.74,"y":6.03,"t":"P"}]},"mark":{"type":"text","align":"left","baseline":"middle","fontStyle":"italic","fontSize":14.5,"color":"#3d3d3d"},
  "encoding":{"x":{"field":"x","type":"quantitative"},"y":{"field":"y","type":"quantitative"},"text":{"field":"t"}}},
 {"data":{"values":[{"x":-1.56,"y":6.55,"t":"= 0.538"},{"x":-1.49,"y":6.03,"t":"< 0.001"}]},"mark":{"type":"text","align":"left","baseline":"middle","fontSize":14.5,"color":"#3d3d3d"},
  "encoding":{"x":{"field":"x","type":"quantitative"},"y":{"field":"y","type":"quantitative"},"text":{"field":"t"}}}
 ]},
{"width":284,"height":212,"title":{"text":"(d)"},
 "layer":[
 {"data":{"name":"d"},"mark":{"type":"circle","size":42,"fill":"#b0b0b0","stroke":"#3c3c3c","strokeWidth":0.8,"opacity":1},
  "encoding":{"x":{"field":"x","type":"quantitative","scale":{"domain":[2,4],"nice":false,"zero":false},"axis":{"values":[2,2.5,3,3.5,4],"format":".1f","title":"Log [soluble Ob-R (ng/mL)]"}},
   "y":{"field":"y","type":"quantitative","scale":{"domain":[1,7],"nice":false,"zero":false},"axis":{"values":[1,2,3,4,5,6,7],"tickCount":7,"labelOverlap":false,"title":"Log [HOMA-β (%)]"}}}},
 {"data":{"values":[{"x":2,"y":5.27},{"x":4,"y":2.45}]},"mark":{"type":"line","color":"#3c3c3c","strokeWidth":1},
  "encoding":{"x":{"field":"x","type":"quantitative","scale":{"domain":[2,4],"nice":false,"zero":false}},"y":{"field":"y","type":"quantitative","scale":{"domain":[1,7],"nice":false,"zero":false}}}},
 {"data":{"values":[{"x":3.446,"y":6.47,"t":"r"},{"x":3.446,"y":5.96,"t":"P"}]},"mark":{"type":"text","align":"left","baseline":"middle","fontStyle":"italic","fontSize":14.5,"color":"#3d3d3d"},
  "encoding":{"x":{"field":"x","type":"quantitative"},"y":{"field":"y","type":"quantitative"},"text":{"field":"t"}}},
 {"data":{"values":[{"x":3.511,"y":6.47,"t":"= –0.471"},{"x":3.527,"y":5.96,"t":"< 0.001"}]},"mark":{"type":"text","align":"left","baseline":"middle","fontSize":14.5,"color":"#3d3d3d"},
  "encoding":{"x":{"field":"x","type":"quantitative"},"y":{"field":"y","type":"quantitative"},"text":{"field":"t"}}}
 ]},
{"width":284,"height":212,"title":{"text":"(e)"},
 "layer":[
 {"data":{"name":"e"},"mark":{"type":"circle","size":42,"fill":"#b0b0b0","stroke":"#3c3c3c","strokeWidth":0.8,"opacity":1},
  "encoding":{"x":{"field":"x","type":"quantitative","scale":{"domain":[-2,4],"nice":false,"zero":false},"axis":{"values":[-2,-1,0,1,2,3,4],"title":"Log [leptin (ng/mL)]"}},
   "y":{"field":"y","type":"quantitative","scale":{"domain":[0,6],"nice":false,"zero":false},"axis":{"values":[0,1,2,3,4,5,6],"tickCount":7,"labelOverlap":false,"title":"C-peptide index"}}}},
 {"data":{"values":[{"x":-2,"y":0.57},{"x":4,"y":2.38}]},"mark":{"type":"line","color":"#3c3c3c","strokeWidth":1},
  "encoding":{"x":{"field":"x","type":"quantitative","scale":{"domain":[-2,4],"nice":false,"zero":false}},"y":{"field":"y","type":"quantitative","scale":{"domain":[0,6],"nice":false,"zero":false}}}},
 {"data":{"values":[{"x":-1.7,"y":5.48,"t":"r"},{"x":-1.7,"y":4.92,"t":"P"}]},"mark":{"type":"text","align":"left","baseline":"middle","fontStyle":"italic","fontSize":14.5,"color":"#3d3d3d"},
  "encoding":{"x":{"field":"x","type":"quantitative"},"y":{"field":"y","type":"quantitative"},"text":{"field":"t"}}},
 {"data":{"values":[{"x":-1.53,"y":5.48,"t":"= 0.387"},{"x":-1.46,"y":4.92,"t":"< 0.001"}]},"mark":{"type":"text","align":"left","baseline":"middle","fontSize":14.5,"color":"#3d3d3d"},
  "encoding":{"x":{"field":"x","type":"quantitative"},"y":{"field":"y","type":"quantitative"},"text":{"field":"t"}}}
 ]},
{"width":284,"height":212,"title":{"text":"(f)"},
 "layer":[
 {"data":{"name":"f"},"mark":{"type":"circle","size":42,"fill":"#b0b0b0","stroke":"#3c3c3c","strokeWidth":0.8,"opacity":1},
  "encoding":{"x":{"field":"x","type":"quantitative","scale":{"domain":[2,4],"nice":false,"zero":false},"axis":{"values":[2,2.5,3,3.5,4],"format":".1f","title":"Log [soluble Ob-R (ng/mL)]"}},
   "y":{"field":"y","type":"quantitative","scale":{"domain":[0,6],"nice":false,"zero":false},"axis":{"values":[0,1,2,3,4,5,6],"tickCount":7,"labelOverlap":false,"title":"C-peptide index"}}}},
 {"data":{"values":[{"x":2,"y":3.12},{"x":4,"y":0.38}]},"mark":{"type":"line","color":"#3c3c3c","strokeWidth":1},
  "encoding":{"x":{"field":"x","type":"quantitative","scale":{"domain":[2,4],"nice":false,"zero":false}},"y":{"field":"y","type":"quantitative","scale":{"domain":[0,6],"nice":false,"zero":false}}}},
 {"data":{"values":[{"x":3.457,"y":5.47,"t":"r"},{"x":3.457,"y":4.95,"t":"P"}]},"mark":{"type":"text","align":"left","baseline":"middle","fontStyle":"italic","fontSize":14.5,"color":"#3d3d3d"},
  "encoding":{"x":{"field":"x","type":"quantitative"},"y":{"field":"y","type":"quantitative"},"text":{"field":"t"}}},
 {"data":{"values":[{"x":3.527,"y":5.47,"t":"= –0.514"},{"x":3.539,"y":4.95,"t":"< 0.001"}]},"mark":{"type":"text","align":"left","baseline":"middle","fontSize":14.5,"color":"#3d3d3d"},
  "encoding":{"x":{"field":"x","type":"quantitative"},"y":{"field":"y","type":"quantitative"},"text":{"field":"t"}}}
 ]}
],
"config": {
 "font": "Open Sans",
 "view": {"stroke": "#3a3a3a", "strokeWidth": 1},
 "axis": {"grid": false, "domainColor": "#3a3a3a", "tickColor": "#3a3a3a", "labelColor": "#404040", "titleColor": "#404040", "labelFont": "Open Sans", "titleFont": "Open Sans", "labelFontSize": 14, "titleFontSize": 15, "titleFontWeight": "normal", "labelFontWeight": "normal", "labelOverlap": false, "labelFlush": false},
 "axisX": {"tickSize": 6, "labelPadding": 6, "titlePadding": 13},
 "axisY": {"tickSize": 8, "labelPadding": 5, "titleX": -31},
 "title": {"font": "Open Sans", "fontSize": 15, "fontWeight": "bold", "anchor": "start", "frame": "bounds", "color": "#111", "offset": -14, "dx": -2}
}
}
